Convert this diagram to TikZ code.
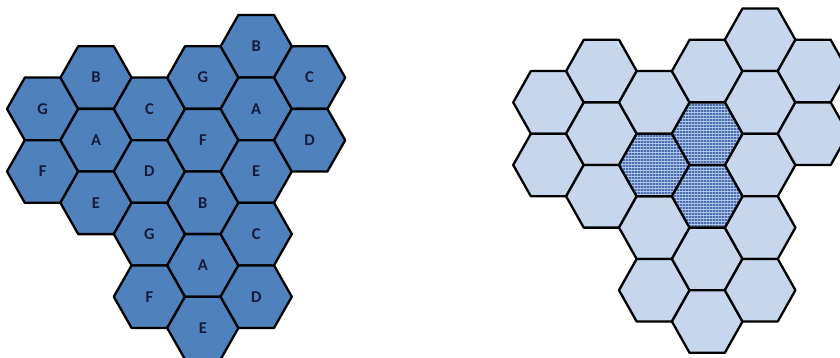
\documentclass[tikz,border=0pt]{standalone}
\usepackage{fontspec}
\setmainfont{Carlito}
\usetikzlibrary{patterns.meta}
\definecolor{darkfill}{HTML}{4F81BD}
\definecolor{lightfill}{HTML}{C6D6EC}
\definecolor{texbase}{HTML}{4A6EAF}
\definecolor{texline}{HTML}{B2C9EE}
\definecolor{labelc}{HTML}{171B3A}
\tikzdeclarepattern{name=weave, type=uncolored,
  bounding box={(0,0) and (3.4pt,3.4pt)}, tile size={(3.4pt,3.4pt)},
  code={\draw[line width=0.9pt] (0,1.7pt) -- (3.4pt,1.7pt);
        \draw[line width=0.6pt] (1.7pt,0) -- (1.7pt,3.4pt);}}
\tikzset{
  hexdark/.style={draw=black, fill=darkfill, line width=2.3pt, line join=round},
  hexlight/.style={draw=black, fill=lightfill, line width=2.3pt, line join=round},
  hextex/.style={fill=texbase},
  hexweave/.style={pattern=weave, pattern color=texline},
  hexline/.style={draw=black, line width=2.3pt, line join=round},
  lab/.style={text=labelc, font=\bfseries\fontsize{16.5}{16.5}\selectfont, inner sep=0pt},
}
\begin{document}
\begin{tikzpicture}[x=1pt, y=-1pt]
\useasboundingbox (0,0) rectangle (840,358);
\clip (0,0) rectangle (840,358);
\fill[white] (0,0) rectangle (840,358);
% left cluster
\def\R{35.6}\def\H{31.3}
\foreach \c/\j/\t/\n in {0/3/G/1,0/5/F/2,1/2/B/3,1/4/A/4,1/6/E/5,2/3/C/6,2/5/D/7,2/7/G/8,2/9/F/9,
  3/2/G/10,3/4/F/11,3/6/B/12,3/8/A/13,3/10/E/14,4/1/B/15,4/3/A/16,4/5/E/17,4/7/C/18,4/9/D/19,5/2/C/20,5/4/D/21}{
  \pgfmathsetmacro\cx{42.6+\c*53.4}
  \pgfmathsetmacro\cy{15+\j*\H}
  \draw[hexdark] (\cx-\R,\cy) -- (\cx-\R/2,\cy-\H) -- (\cx+\R/2,\cy-\H) -- (\cx+\R,\cy)
     -- (\cx+\R/2,\cy+\H) -- (\cx-\R/2,\cy+\H) -- cycle;
  \node[lab] (L\n) at (\cx,\cy) {\t};
}
% right cluster
\def\Rr{35.3}
\foreach \c/\j in {0/3,0/5,1/2,1/4,1/6,2/3,2/7,2/9,3/2,3/8,3/10,4/1,4/3,4/5,4/7,4/9,5/2,5/4}{
  \pgfmathsetmacro\cx{548.5+\c*52.9}
  \pgfmathsetmacro\cy{8.5+\j*\H}
  \draw[hexlight] (\cx-\Rr,\cy) -- (\cx-\Rr/2,\cy-\H) -- (\cx+\Rr/2,\cy-\H) -- (\cx+\Rr,\cy)
     -- (\cx+\Rr/2,\cy+\H) -- (\cx-\Rr/2,\cy+\H) -- cycle;
}
\foreach \c/\j in {2/5,3/4,3/6}{
  \pgfmathsetmacro\cx{548.5+\c*52.9}
  \pgfmathsetmacro\cy{8.5+\j*\H}
  \fill[hextex] (\cx-\Rr,\cy) -- (\cx-\Rr/2,\cy-\H) -- (\cx+\Rr/2,\cy-\H) -- (\cx+\Rr,\cy)
     -- (\cx+\Rr/2,\cy+\H) -- (\cx-\Rr/2,\cy+\H) -- cycle;
  \fill[hexweave] (\cx-\Rr,\cy) -- (\cx-\Rr/2,\cy-\H) -- (\cx+\Rr/2,\cy-\H) -- (\cx+\Rr,\cy)
     -- (\cx+\Rr/2,\cy+\H) -- (\cx-\Rr/2,\cy+\H) -- cycle;
  \draw[hexline] (\cx-\Rr,\cy) -- (\cx-\Rr/2,\cy-\H) -- (\cx+\Rr/2,\cy-\H) -- (\cx+\Rr,\cy)
     -- (\cx+\Rr/2,\cy+\H) -- (\cx-\Rr/2,\cy+\H) -- cycle;
}
\end{tikzpicture}
\end{document}
